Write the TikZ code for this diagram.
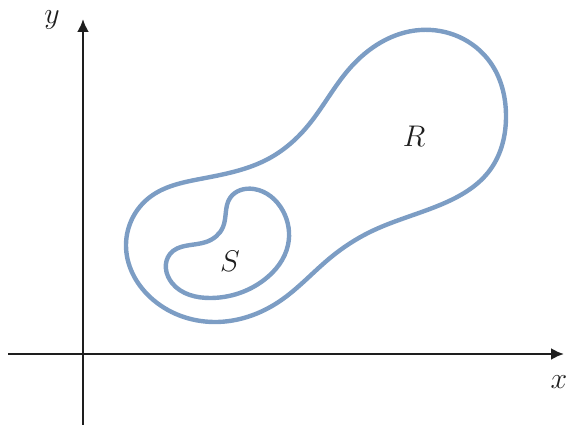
\documentclass[tikz,border=0pt]{standalone}
\usepackage{tikz}
\usetikzlibrary{arrows.meta,hobby}
\definecolor{regblue}{RGB}{124,157,196}
\definecolor{axisgray}{RGB}{30,30,30}

\begin{document}
\begin{tikzpicture}[
      x=1pt, y=-1pt,
      axis/.style={-{Latex[length=13pt,width=12pt]},line width=2.4pt,axisgray},
      region/.style={line width=4.4pt,regblue},
      label/.style={font=\Huge,scale=1.2,text=axisgray}
    ]
      \useasboundingbox (0,0) rectangle (567,425);

      % Axes
      \coordinate (xstart) at (8,354);
      \coordinate (xend) at (564,354);
      \coordinate (ystart) at (83,425);
      \coordinate (yend) at (83,19);
      \draw[axis] (xstart) -- (xend);
      \draw[axis] (ystart) -- (yend);
      \node[label] (xlab) at (559,382) {$x$};
      \node[label] (ylab) at (52,20) {$y$};

      % Region R
      \draw[region,use Hobby shortcut,closed=true]
        (420,30) .. (490,62) .. (506,115) .. (490,170) .. (440,205)
        .. (370,232) .. (330,258) .. (280,301) .. (214,322) .. (150,297)
        .. (126,245) .. (150,197) .. (200,179) .. (268,159) .. (306,128)
        .. (350,68);
      \node[label] (R) at (414,136) {$R$};

      % Region S
      \draw[region,use Hobby shortcut,closed=true]
        (254,189) .. (283,211) .. (288,245) .. (264,280) .. (211,298)
        .. (172,283) .. (170,254) .. (206,242) .. (223,227) .. (230,198);
      \node[label] (S) at (230,261) {$S$};
    \end{tikzpicture}
\end{document}
